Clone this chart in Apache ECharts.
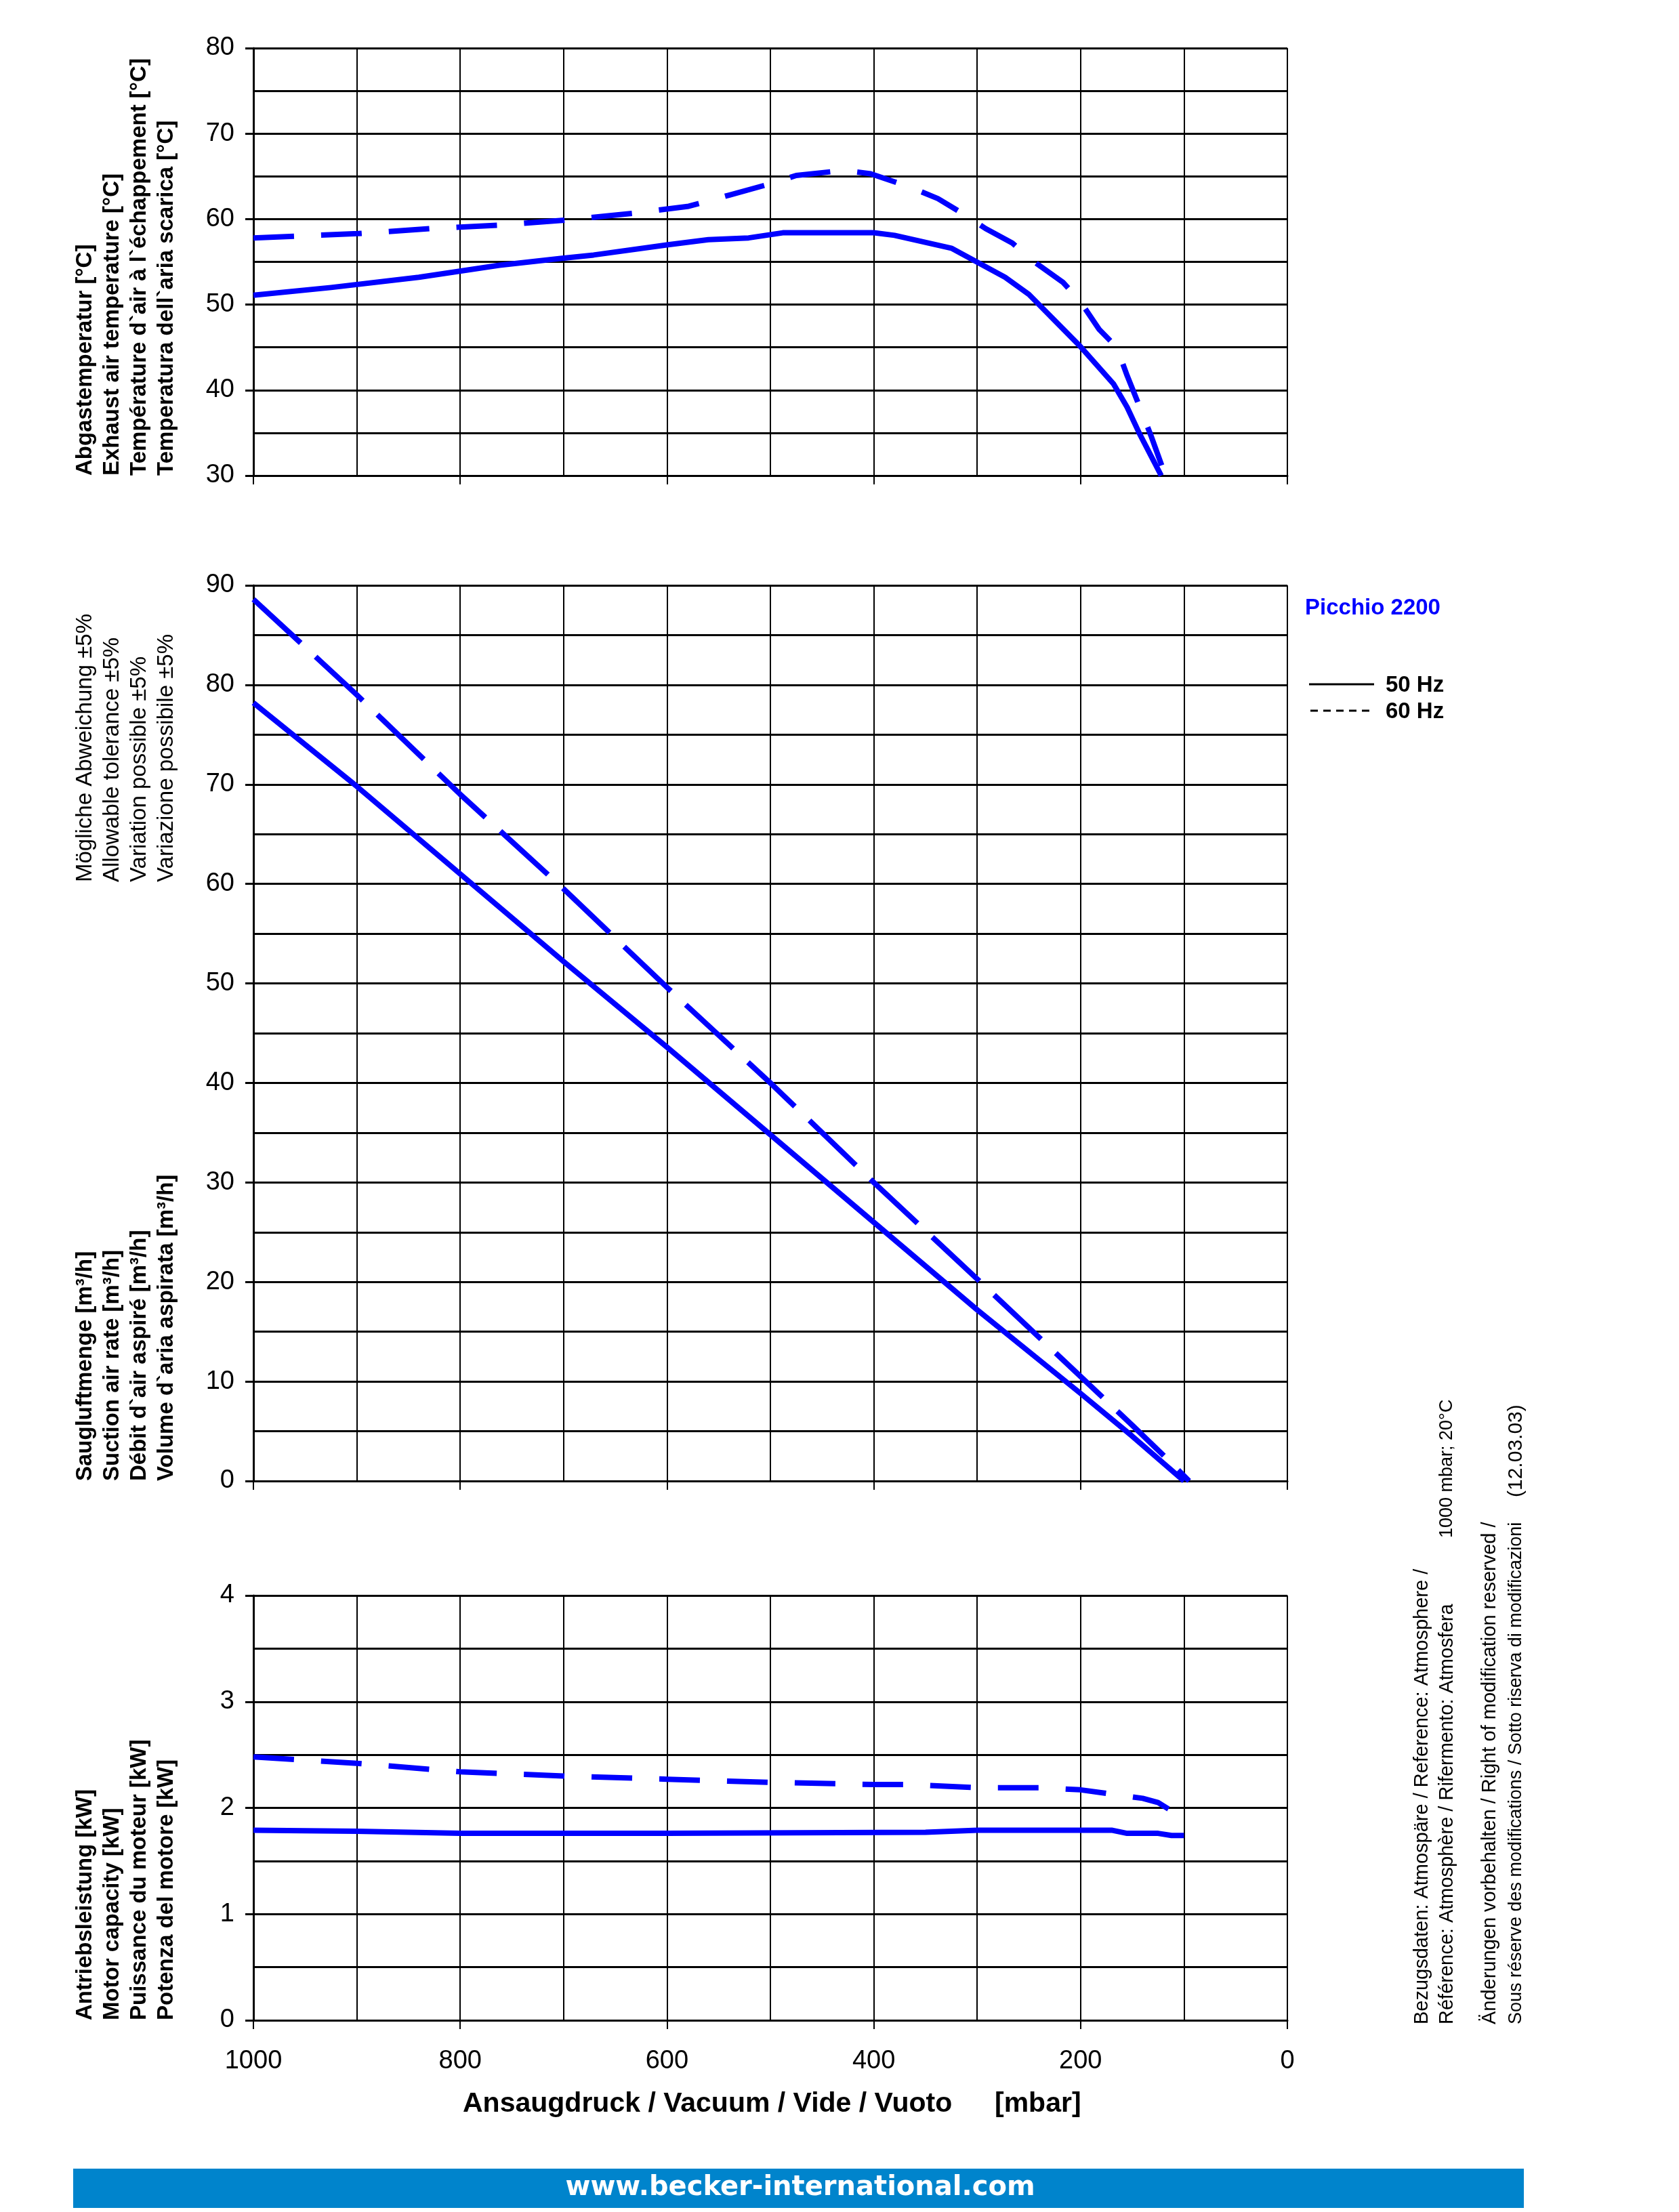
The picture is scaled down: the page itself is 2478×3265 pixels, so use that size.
<!DOCTYPE html>
<html><head><meta charset="utf-8">
<script src="https://cdn.jsdelivr.net/npm/echarts@6/dist/echarts.min.js"></script>
<style>html,body{margin:0;padding:0;background:#fff}#c{width:2478px;height:3265px}</style>
</head><body><div id="c"></div>
<script>
// ---------- DATA ----------
// x axis: vacuum [mbar]
const xTickValues = [1000, 800, 600, 400, 200, 0];

// Exhaust air temperature [°C]
const tempP50 = [1000, 925, 840, 762, 703, 671, 599, 560, 521, 488, 400, 380, 325, 299, 273, 250, 201, 168, 155, 143, 122];
const temp50  = [51.1, 52.0, 53.2, 54.6, 55.4, 55.8, 57.0, 57.6, 57.8, 58.4, 58.4, 58.1, 56.6, 54.9, 53.2, 51.2, 45.2, 40.7, 38.0, 34.9, 30.0];
const tempP60 = [1000, 899, 827, 762, 697, 631, 579, 540, 501, 475, 429, 403, 364, 338, 312, 292, 266, 247, 217, 201, 182, 165, 155, 145, 132, 118];
const temp60  = [57.8, 58.3, 58.9, 59.3, 59.9, 60.7, 61.5, 62.8, 64.1, 65.1, 65.7, 65.3, 63.7, 62.4, 60.5, 58.9, 57.2, 55.2, 52.6, 50.5, 47.1, 45.0, 41.7, 38.7, 34.7, 30.0];

// Suction air rate [m³/h]
const flowP50 = [1000, 900, 800, 700, 600, 500, 400, 300, 200, 150, 100];
const flow50  = [78.2, 69.8, 61.0, 52.2, 43.6, 34.8, 26.0, 17.2, 8.8, 4.5, 0];
const flowP60 = [1000, 900, 800, 700, 600, 500, 400, 300, 200, 150, 120, 95];
const flow60  = [88.6, 79.0, 69.0, 59.5, 49.6, 40.0, 30.0, 20.3, 10.5, 5.6, 2.6, 0];

// Motor capacity [kW]
const powP50 = [1000, 900, 800, 600, 350, 300, 170, 155, 125, 112, 100];
const pow50  = [1.79, 1.78, 1.76, 1.76, 1.77, 1.79, 1.79, 1.76, 1.76, 1.74, 1.74];
const powP60 = [1000, 900, 800, 700, 600, 500, 400, 365, 300, 240, 200, 170, 140, 125, 115];
const pow60  = [2.48, 2.42, 2.34, 2.30, 2.27, 2.24, 2.22, 2.22, 2.19, 2.19, 2.17, 2.13, 2.09, 2.05, 1.99];

// ---------- TEXTS ----------
const tempNames = ["Abgastemperatur [°C]", "Exhaust air temperature [°C]", "Température d`air à l`échappement [°C]", "Temperatura dell`aria scarica [°C]"];
const flowNames = ["Saugluftmenge [m³/h]", "Suction air rate [m³/h]", "Débit d`air aspiré [m³/h]", "Volume d`aria aspirata [m³/h]"];
const tolNames  = ["Mögliche Abweichung ±5%", "Allowable tolerance ±5%", "Variation possible ±5%", "Variazione possibile ±5%"];
const powNames  = ["Antriebsleistung [kW]", "Motor capacity [kW]", "Puissance du moteur [kW]", "Potenza del motore [kW]"];
const xTitle = "Ansaugdruck / Vacuum / Vide / Vuoto";
const xUnit = "[mbar]";
const productName = "Picchio 2200";
const legendNames = ["50 Hz", "60 Hz"];
const noteLines = [
  "Bezugsdaten: Atmospäre / Reference: Atmosphere /",
  "Référence: Atmosphère / Rifermento: Atmosfera",
  "Änderungen vorbehalten / Right of modification reserved /",
  "Sous réserve des modifications / Sotto riserva di modificazioni"
];
const noteExtra = ["1000 mbar; 20°C", "(12.03.03)"];
const website = "www.becker-international.com";

// ---------- CHART ----------
const FONT = "'Liberation Sans', Arial, Helvetica, sans-serif";
const BLUE = '#0000ff';
const chart = echarts.init(document.getElementById('c'), null, {renderer: 'canvas', width: 2478, height: 3265});
const zip = (xs, ys) => xs.map((x, i) => [x, ys[i]]);

const L = 374, W = 1526;
const grids = [
  {left: L, top: 71, width: W, height: 631},
  {left: L, top: 864, width: W, height: 1322},
  {left: L, top: 2355, width: W, height: 627}
];

function xAxis(i, showLabel) {
  return {
    type: 'value', gridIndex: i, min: 0, max: 1000, interval: 200, inverse: true,
    axisLine: {show: true, onZero: false, lineStyle: {color: '#000', width: 3}},
    axisTick: {show: true, length: 13, lineStyle: {color: '#000', width: 2}},
    axisLabel: {show: showLabel, color: '#000', fontSize: 38, fontFamily: FONT, margin: 42,
      formatter: v => xTickValues.includes(v) ? String(v) : ''},
    splitLine: {show: true, lineStyle: {color: '#000', width: 2}},
    minorTick: {show: false, splitNumber: 2},
    minorSplitLine: {show: true, lineStyle: {color: '#000', width: 2}}
  };
}
function yAxis(i, min, max, interval) {
  return {
    type: 'value', gridIndex: i, min: min, max: max, interval: interval,
    axisLine: {show: true, onZero: false, lineStyle: {color: '#000', width: 3}},
    axisTick: {show: true, length: 12, lineStyle: {color: '#000', width: 3}},
    axisLabel: {color: '#000', fontSize: 38, fontFamily: FONT, margin: 28},
    splitLine: {show: true, lineStyle: {color: '#000', width: 3}},
    minorTick: {show: false, splitNumber: 2},
    minorSplitLine: {show: true, lineStyle: {color: '#000', width: 3}}
  };
}
function series(i, xs, ys, dashed, dash) {
  return {
    type: 'line', xAxisIndex: i, yAxisIndex: i, data: zip(xs, ys), symbol: 'none',
    clip: true, z: 5, animation: false,
    lineStyle: {color: BLUE, width: 8, type: dashed ? dash : 'solid', cap: 'butt', join: 'round'}
  };
}
function vtext(x, yBottom, text, font, color) {
  return {type: 'text', x: x, y: yBottom, rotation: Math.PI / 2, silent: true,
    style: {text: text, font: font, fill: color || '#000', textAlign: 'left', textVerticalAlign: 'middle'}};
}
function htext(x, y, text, font, color, align) {
  return {type: 'text', x: x, y: y, silent: true,
    style: {text: text, font: font, fill: color || '#000', textAlign: align || 'left', textVerticalAlign: 'middle'}};
}

const nameX = [126, 166, 206, 246];
const BOLD = "bold 33px " + FONT;
const REG = "33px " + FONT;
const NOTE = "29px " + FONT;
const graphics = [];
tempNames.forEach((t, k) => graphics.push(vtext(nameX[k], 702, t, BOLD)));
flowNames.forEach((t, k) => graphics.push(vtext(nameX[k], 2186, t, BOLD)));
tolNames.forEach((t, k) => graphics.push(vtext(nameX[k], 1302, t, REG)));
powNames.forEach((t, k) => graphics.push(vtext(nameX[k], 2982, t, BOLD)));

// x axis title
graphics.push(htext(683, 3106, xTitle, "bold 41px " + FONT));
graphics.push(htext(1468, 3106, xUnit, "bold 41px " + FONT));

// legend
graphics.push(htext(1926, 898, productName, "bold 33px " + FONT, BLUE));
graphics.push({type: 'line', silent: true, shape: {x1: 1932, y1: 1010, x2: 2028, y2: 1010}, style: {stroke: '#000', lineWidth: 3}});
graphics.push({type: 'line', silent: true, shape: {x1: 1934, y1: 1049, x2: 2028, y2: 1049}, style: {stroke: '#000', lineWidth: 3, lineDash: [11, 8]}});
graphics.push(htext(2045, 1012, legendNames[0], "bold 33px " + FONT));
graphics.push(htext(2045, 1051, legendNames[1], "bold 33px " + FONT));

// notes on the right
const noteX = [2099, 2136, 2199, 2238];
const noteFonts = [NOTE, NOTE, NOTE, "27px " + FONT];
noteLines.forEach((t, k) => graphics.push(vtext(noteX[k], 2988, t, noteFonts[k])));
graphics.push(vtext(noteX[1], 2270, noteExtra[0], "27px " + FONT));
graphics.push(vtext(noteX[3], 2210, noteExtra[1], "30px " + FONT));

// banner
graphics.push({type: 'rect', silent: true, shape: {x: 108, y: 3201, width: 2141, height: 58}, style: {fill: '#0084cc'}});
graphics.push(htext(1181, 3230, website, "bold 40px 'DejaVu Sans', Verdana, sans-serif", '#fff', 'center'));

chart.setOption({
  animation: false,
  backgroundColor: '#fff',
  grid: grids,
  xAxis: [xAxis(0, false), xAxis(1, false), xAxis(2, true)],
  yAxis: [yAxis(0, 30, 80, 10), yAxis(1, 0, 90, 10), yAxis(2, 0, 4, 1)],
  series: [
    series(0, tempP50, temp50, false),
    series(0, tempP60, temp60, true, [60, 40]),
    series(1, flowP50, flow50, false),
    series(1, flowP60, flow60, true, [95, 30]),
    series(2, powP50, pow50, false),
    series(2, powP60, pow60, true, [60, 40])
  ],
  graphic: graphics
});
</script>
</body></html>
